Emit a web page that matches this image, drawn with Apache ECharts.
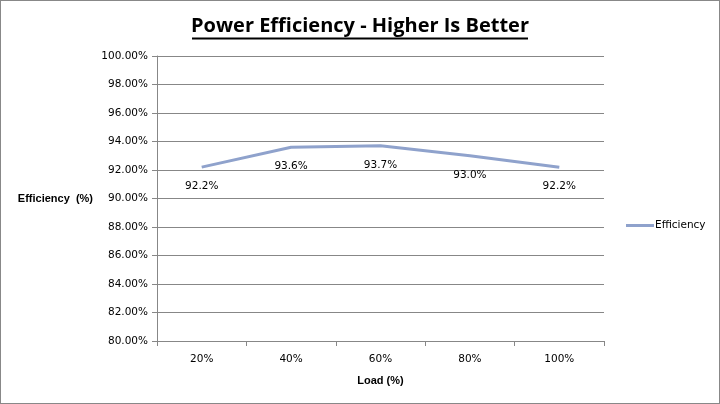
<!DOCTYPE html>
<html><head><meta charset="utf-8">
<script src="https://cdn.jsdelivr.net/npm/echarts@6/dist/echarts.min.js"></script>
<style>html,body{margin:0;padding:0;background:#fff}#c{width:718px;height:402px;border:1px solid #888}</style>
</head><body><div id="c"></div>
<script>
var categories = ['20%', '40%', '60%', '80%', '100%'];
var efficiency = [92.2, 93.6, 93.7, 93.0, 92.2];
var seriesName = 'Efficiency';
var chart = echarts.init(document.getElementById('c'));
chart.setOption({
  animation: false,
  title: {
    text: 'Power Efficiency - Higher Is Better',
    left: 'center', top: 10,
    textStyle: {fontFamily: 'Open Sans', fontWeight: 'bold', fontSize: 20, color: '#000'}
  },
  graphic: [{type: 'line', shape: {x1: 191, y1: 37.5, x2: 527, y2: 37.5}, style: {stroke: '#000', lineWidth: 2}}],
  legend: {
    orient: 'vertical', left: 620, top: 214, itemWidth: 28, itemHeight: 3, itemGap: 0,
    icon: 'rect',
    textStyle: {fontFamily: 'DejaVu Sans', fontSize: 10.5, color: '#000', padding: [0,0,0,-4]},
    data: [seriesName]
  },
  grid: {left: 156, right: 115, top: 55, bottom: 62, outerBoundsMode: 'none', containLabel: false},
  xAxis: {
    type: 'category', data: categories, boundaryGap: true,
    name: 'Load (%)', nameLocation: 'middle', nameGap: 34,
    nameTextStyle: {fontFamily: 'Liberation Sans', fontWeight: 'bold', fontSize: 11, color: '#000'},
    axisLine: {lineStyle: {color: '#878787', width: 1}},
    axisTick: {show: true, length: 5, lineStyle: {color: '#878787'}},
    axisLabel: {fontFamily: 'DejaVu Sans', fontSize: 10.5, color: '#000', margin: 13}
  },
  yAxis: {
    type: 'value', min: 80, max: 100, interval: 2,
    name: 'Efficiency  (%)', nameLocation: 'middle', nameGap: 64, nameRotate: 0,
    nameTextStyle: {fontFamily: 'Liberation Sans', fontWeight: 'bold', fontSize: 11, color: '#000'},
    axisLine: {show: true, lineStyle: {color: '#878787'}},
    axisTick: {show: true, length: 5, inside: false, lineStyle: {color: '#878787'}},
    splitLine: {lineStyle: {color: '#878787', width: 1}},
    axisLabel: {fontFamily: 'DejaVu Sans', fontSize: 10.5, color: '#000', margin: 9,
      formatter: function (v) { return v.toFixed(2) + '%'; }}
  },
  series: [{
    name: seriesName, type: 'line', data: efficiency,
    symbol: 'circle', symbolSize: 0, showSymbol: true,
    lineStyle: {color: '#8FA2CC', width: 3}, itemStyle: {color: '#8FA2CC'},
    label: {show: true, position: 'bottom', distance: 14, fontFamily: 'DejaVu Sans', fontSize: 10.5, color: '#000',
      formatter: function (p) { return p.value.toFixed(1) + '%'; }}
  }]
});
</script></body></html>
